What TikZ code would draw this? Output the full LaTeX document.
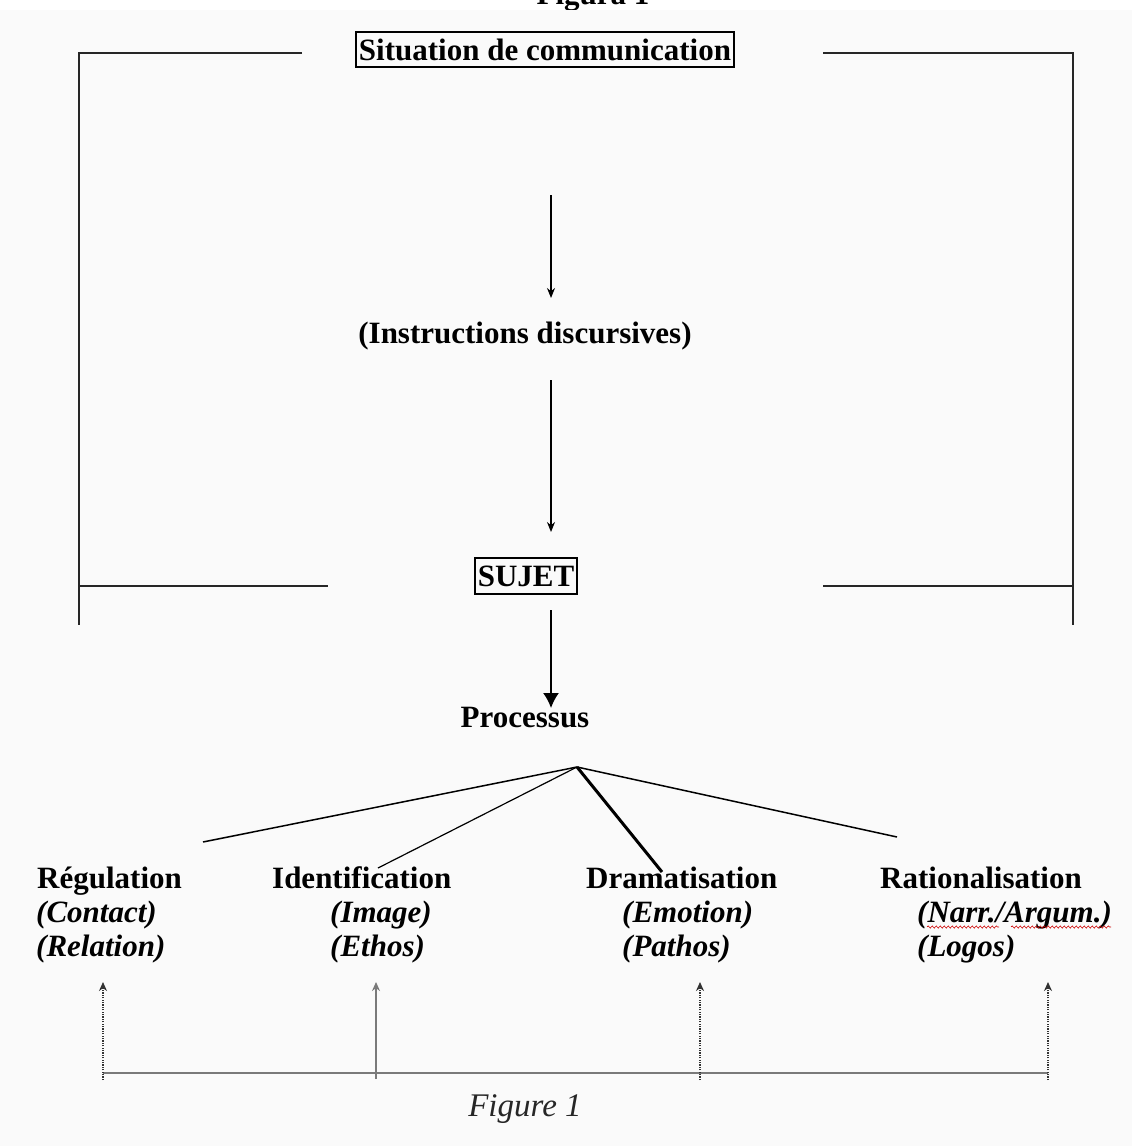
\documentclass[tikz,border=0pt]{standalone}
\usepackage{fontspec}
\setmainfont{Liberation Serif}
\usetikzlibrary{arrows.meta,decorations.pathmorphing}
\definecolor{bgc}{HTML}{FAFAFA}
\definecolor{lowgray}{HTML}{7A7A7A}
\begin{document}
\begin{tikzpicture}[x=1pt,y=-1pt,
  lbl/.style={font=\bfseries\fontsize{31}{34}\selectfont, inner sep=0pt, anchor=base west},
  ital/.style={font=\bfseries\itshape\fontsize{31}{34}\selectfont, inner sep=0pt, anchor=base west},
  ctr/.style={font=\bfseries\fontsize{31}{34}\selectfont, inner sep=0pt, anchor=base},
  boxed/.style={draw, line width=1.6pt, font=\bfseries\fontsize{31}{34}\selectfont, inner xsep=3pt, inner ysep=0pt},
  bracket/.style={line width=2pt, black!85},
  thinarr/.style={line width=1.3pt, -{Stealth[length=10pt,width=8pt]}},
  bigarr/.style={line width=1.6pt, -{Latex[length=15pt,width=16pt]}},
  branch/.style={line width=1.5pt},
  upsolid/.style={lowgray, line width=1.4pt, -{Stealth[length=9pt,width=8pt]}},
  updot/.style={black!80, line width=1.5pt, dash pattern=on 1.2pt off 1.2pt, -{Stealth[length=9pt,width=8pt]}},
  wavy/.style={red!80!black, line width=0.6pt, decorate, decoration={snake,segment length=4pt,amplitude=1.1pt}}
]
\useasboundingbox (0,0) rectangle (1132,1146);
\fill[white] (0,0) rectangle (1132,10);
\node[ctr] (figura) at (593,4) {Figura 1};
\fill[bgc] (0,10) rectangle (1132,1146);

% brackets
\draw[bracket] (302,53) -- (79,53) -- (79,625);
\draw[bracket] (79,586) -- (328,586);
\draw[bracket] (823,53) -- (1073,53) -- (1073,625);
\draw[bracket] (823,586) -- (1073,586);

% main column
\node[boxed, minimum height=35pt] (sit) at (545,49.5) {Situation de communication};
\node[ctr] (instr) at (525,343) {(Instructions discursives)};
\node[boxed, minimum height=36pt] (sujet) at (526,576) {SUJET};
\node[ctr] (proc) at (525,727) {Processus};

\coordinate (a1s) at (551,195);
\coordinate (a1e) at (551,298);
\coordinate (a2s) at (551,380);
\coordinate (a2e) at (551,532);
\coordinate (a3s) at (551,610);
\coordinate (a3e) at (551,708);
\draw[thinarr] (a1s) -- (a1e);
\draw[thinarr] (a2s) -- (a2e);
\draw[bigarr] (a3s) -- (a3e);

% labels
\node[lbl] (reg) at (37,888) {Régulation};
\node[ital] (reg1) at (36,922) {(Contact)};
\node[ital] (reg2) at (36,956) {(Relation)};
\node[lbl] (ident) at (272,888) {Identification};
\node[ital] (ident1) at (330,922) {(Image)};
\node[ital] (ident2) at (330,956) {(Ethos)};
\node[lbl] (dram) at (586,888) {Dramatisation};
\node[ital] (dram1) at (622,922) {(Emotion)};
\node[ital] (dram2) at (622,956) {(Pathos)};
\node[lbl] (rat) at (880,888) {Rationalisation};
\node[ital] (rat1) at (917,922) {(Narr./Argum.)};
\node[ital] (rat2) at (917,956) {(Logos)};

\draw[wavy] ([xshift=10pt,yshift=-5pt]rat1.base west) -- ++(72,0);
\draw[wavy] ([xshift=94pt,yshift=-5pt]rat1.base west) -- ++(100,0);

% branches
\coordinate (apex) at (577,767);
\coordinate (bReg) at (203,842);
\coordinate (bId) at (378,868);
\coordinate (bDr) at (662,872);
\coordinate (bRa) at (897,837);
\draw[branch] (apex) -- (bReg);
\draw[line width=1.2pt] (apex) -- (bId);
\draw[line width=3pt] (apex) -- (bDr);
\draw[branch] (apex) -- (bRa);

% bottom
\coordinate (h1) at (103,1073);
\coordinate (h2) at (376,1073);
\coordinate (h3) at (700,1073);
\coordinate (h4) at (1048,1073);
\draw[lowgray, line width=1.5pt] (h1) -- (h4);
\coordinate (t1) at (103,982);
\coordinate (t2) at (376,982);
\coordinate (t3) at (700,982);
\coordinate (t4) at (1048,982);
\coordinate (s1) at (103,1080);
\coordinate (s2) at (376,1079);
\coordinate (s3) at (700,1080);
\coordinate (s4) at (1048,1080);
\draw[updot] (s1) -- (t1);
\draw[upsolid] (s2) -- (t2);
\draw[updot] (s3) -- (t3);
\draw[updot] (s4) -- (t4);

\node[font=\itshape\fontsize{33}{36}\selectfont, inner sep=0pt, anchor=base, black!85] (cap) at (525,1116) {Figure 1};
\end{tikzpicture}
\end{document}
